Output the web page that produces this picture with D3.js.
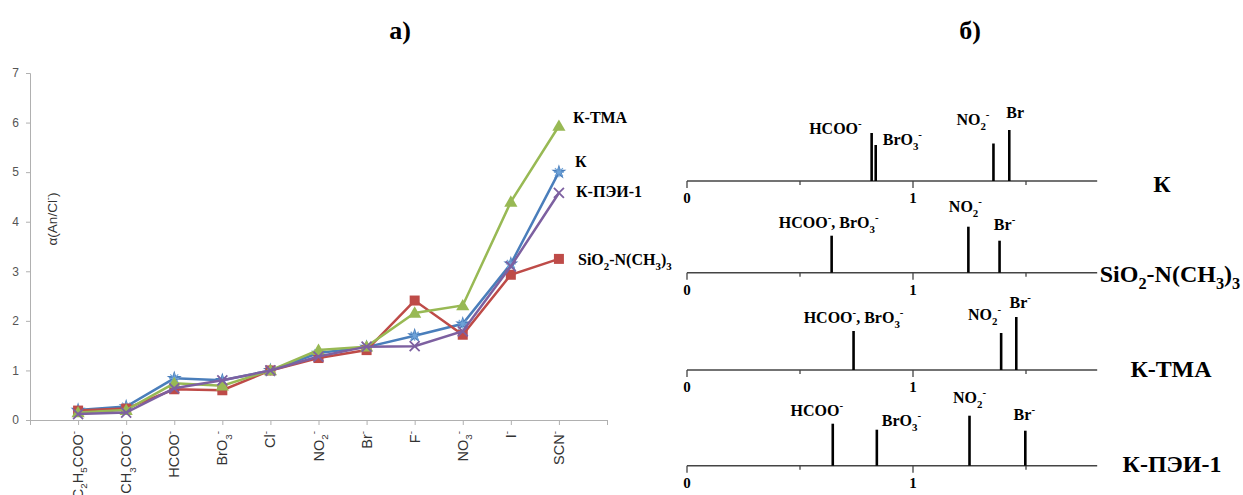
<!DOCTYPE html>
<html><head><meta charset="utf-8">
<script src="https://cdn.jsdelivr.net/npm/d3@7"></script>
<style>body{margin:0;background:#fff}svg{display:block}</style>
</head><body>
<script>
// ---------- DATA ----------
const categories = ["C_2H_5COO^-","CH_3COO^-","HCOO^-","BrO_3^-","Cl^-","NO_2^-","Br^-","F^-","NO_3^-","I^-","SCN^-"];
const seriesNames = ["К","SiO_2-N(CH_3)_3","К-ТМА","К-ПЭИ-1"];
const valuesK    = [0.20,0.27,0.84,0.80,1.00,1.35,1.47,1.70,1.94,3.15,5.00];
const valuesSiO2 = [0.19,0.23,0.62,0.60,1.00,1.25,1.41,2.41,1.72,2.93,3.25];
const valuesTMA  = [0.15,0.20,0.74,0.69,1.00,1.41,1.48,2.16,2.31,4.40,5.93];
const valuesPEI  = [0.12,0.15,0.64,0.80,1.00,1.28,1.48,1.49,1.79,3.10,4.58];
const yTicks = [0,1,2,3,4,5,6,7];

// right panel: peak positions (alpha) and relative heights
const panelNames = ["К","SiO_2-N(CH_3)_3","К-ТМА","К-ПЭИ-1"];
const peakLabels = [
  ["HCOO^-","BrO_3^-","NO_2^-","Br"],
  ["HCOO^-, BrO_3^-","NO_2^-","Br^-"],
  ["HCOO^-, BrO_3^-","NO_2^-","Br^-"],
  ["HCOO^-","BrO_3^-","NO_2^-","Br^-"]
];
const peakPos = [
  [0.817,0.835,1.356,1.426],
  [0.640,1.245,1.383],
  [0.737,1.390,1.457],
  [0.645,0.840,1.250,1.497]
];
const peakHeight = [
  [0.48,0.36,0.375,0.51],
  [0.37,0.46,0.32],
  [0.39,0.37,0.53],
  [0.42,0.36,0.50,0.35]
];
const panelTicks = [0,0.5,1,1.5];
const panelTickLabels = ["0","","1",""];

// ---------- LAYOUT (not data) ----------
const W=1243,H=495;
const labelLayout = [ // dx from peak, dy baseline from axis, anchor
  [[-10,-47,"end"],[7,-36,"start"],[-4,-56,"end"],[-3,-63,"start"]],
  [[-3,-45,"middle"],[-3,-61,"middle"],[5,-43,"middle"]],
  [[0,-47,"middle"],[0,-50,"end"],[4,-62,"middle"]],
  [[-16,-50,"middle"],[5,-40,"start"],[0,-63,"middle"],[-1,-46,"middle"]]
];
const panelAxisY=[181,272.7,370,465.7];
const panelNameX=[1162,1170,1171,1172];
const panelNameDy=[11,9,7,6];
const seriesLabelPos=[[575,167],[578,265],[573,123],[576,197]];
const colors=["#4A7EBB","#BE4B48","#98B954","#7D60A0"];

const svg=d3.select("body").append("svg").attr("width",W).attr("height",H).style("background","#fff");

function rich(textSel, str, size){
  // _x subscript, ^x superscript
  const segs=[];let i=0;
  while(i<str.length){
    const c=str[i];
    if(c==="_"||c==="^"){segs.push({t:str[i+1],m:c});i+=2;}
    else{ if(segs.length&&segs[segs.length-1].m==="n") segs[segs.length-1].t+=c; else segs.push({t:c,m:"n"}); i++;}
  }
  let cur=0;
  segs.forEach(s=>{
    const target = s.m==="_"? size*0.3 : s.m==="^"? -size*0.42 : 0;
    const fs = s.m==="n"? size : size*0.68;
    textSel.append("tspan").attr("dy",target-cur).attr("font-size",fs).text(s.t);
    cur=target;
  });
}

// ---------- TITLES ----------
svg.append("text").attr("x",400).attr("y",39).attr("text-anchor","middle")
  .attr("font-family","Liberation Serif").attr("font-weight","bold").attr("font-size",26).text("а)");
svg.append("text").attr("x",970).attr("y",39).attr("text-anchor","middle")
  .attr("font-family","Liberation Serif").attr("font-weight","bold").attr("font-size",26).text("б)");

// ---------- LEFT CHART ----------
const x=d3.scaleLinear().domain([0,12]).range([30,607]);
const y=d3.scaleLinear().domain([0,7]).range([420,73]);

const gy=svg.append("g").attr("transform","translate(30,0)")
  .call(d3.axisLeft(y).tickValues(yTicks).tickSize(4).tickFormat(d3.format("d")));
gy.selectAll("path,line").attr("stroke","#b0b0b0");
gy.selectAll("text").attr("font-family","Liberation Sans").attr("font-size",12).attr("fill","#555").attr("x",-11);

const gx=svg.append("g").attr("transform","translate(0,420)")
  .call(d3.axisBottom(x).tickValues(d3.range(0,13)).tickSize(5).tickFormat(""));
gx.selectAll("path,line").attr("stroke","#b0b0b0");
categories.forEach((c,i)=>{
  const t=svg.append("text").attr("transform",`translate(${x(i+1)+5},431) rotate(-90)`)
    .attr("text-anchor","end").attr("font-family","Liberation Sans").attr("font-size",14.5).attr("fill","#333");
  rich(t,c,14.5);
});

const yt=svg.append("text").attr("transform","translate(57,219) rotate(-90)").attr("text-anchor","middle")
  .attr("font-family","Liberation Sans").attr("font-size",13.5).attr("fill","#333");
rich(yt,"α(An/Cl^-)",13.5);

const allSeries=[valuesK,valuesSiO2,valuesTMA,valuesPEI];
const line=d3.line().x((d,i)=>x(i+1)).y(d=>y(d));
allSeries.forEach((vals,si)=>{
  svg.append("path").datum(vals).attr("d",line).attr("fill","none").attr("stroke",colors[si]).attr("stroke-width",2.5);
  const g=svg.append("g");
  vals.forEach((v,i)=>{
    const cx=x(i+1),cy=y(v);
    if(si===0){
      g.append("path").attr("transform",`translate(${cx},${cy})`).attr("d",d3.symbol(d3.symbolStar,70)()).attr("fill",colors[0]);
      g.append("path").attr("transform",`translate(${cx},${cy})`).attr("d","M-5,0H5M0,-5V5M-4,-4L4,4M-4,4L4,-4").attr("stroke","#6fa3d8").attr("stroke-width",1.2);
    } else if(si===1){
      g.append("rect").attr("x",cx-5).attr("y",cy-5).attr("width",10).attr("height",10).attr("fill",colors[1]);
    } else if(si===2){
      g.append("path").attr("transform",`translate(${cx},${cy+1})`).attr("d",d3.symbol(d3.symbolTriangle,75)()).attr("fill",colors[2]);
    } else {
      g.append("path").attr("transform",`translate(${cx},${cy})`).attr("d","M-5,-5L5,5M-5,5L5,-5").attr("stroke",colors[3]).attr("stroke-width",1.8);
    }
  });
  const lp=seriesLabelPos[si];
  const t=svg.append("text").attr("x",lp[0]).attr("y",lp[1]).attr("font-family","Liberation Serif")
    .attr("font-weight","bold").attr("font-size",16).attr("fill","#000");
  rich(t,seriesNames[si],16);
});

// ---------- RIGHT PANELS ----------
const px=d3.scaleLinear().domain([0,1]).range([687,913]);
const ph=d3.scaleLinear().domain([0,1]).range([0,100]);
panelNames.forEach((name,pi)=>{
  const ay=panelAxisY[pi];
  const g=svg.append("g");
  g.append("line").attr("x1",px(0)).attr("x2",px(1.815)).attr("y1",ay).attr("y2",ay).attr("stroke","#444").attr("stroke-width",1.5);
  panelTicks.forEach((t,k)=>{
    g.append("line").attr("x1",px(t)).attr("x2",px(t)).attr("y1",ay).attr("y2",ay+(k%2===0?7:4)).attr("stroke","#444").attr("stroke-width",1.3);
    if(panelTickLabels[k]) g.append("text").attr("x",px(t)).attr("y",ay+22).attr("text-anchor","middle")
      .attr("font-family","Liberation Serif").attr("font-weight","bold").attr("font-size",15).text(panelTickLabels[k]);
  });
  peakPos[pi].forEach((p,k)=>{
    g.append("line").attr("x1",px(p)).attr("x2",px(p)).attr("y1",ay).attr("y2",ay-ph(peakHeight[pi][k]))
      .attr("stroke","#000").attr("stroke-width",2.6);
    const L=labelLayout[pi][k];
    const t=g.append("text").attr("x",px(p)+L[0]).attr("y",ay+L[1]).attr("text-anchor",L[2])
      .attr("font-family","Liberation Serif").attr("font-weight","bold").attr("font-size",16);
    rich(t,peakLabels[pi][k],16);
  });
  const nt=g.append("text").attr("x",panelNameX[pi]).attr("y",ay+panelNameDy[pi]).attr("text-anchor","middle")
    .attr("font-family","Liberation Serif").attr("font-weight","bold").attr("font-size",24);
  rich(nt,name,24);
});
</script>
</body></html>
